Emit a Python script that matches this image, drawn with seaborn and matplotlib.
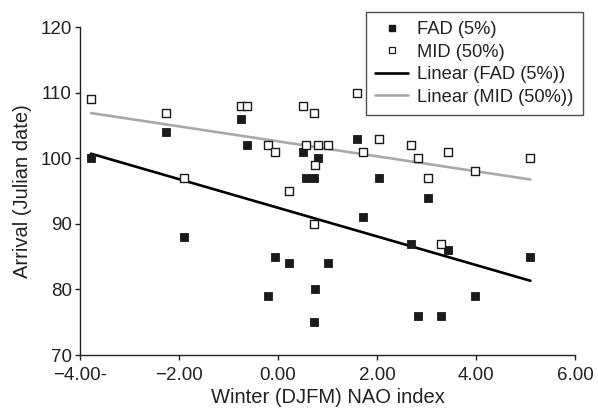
import numpy as np
import pandas as pd
import matplotlib
matplotlib.use("Agg")
import matplotlib.pyplot as plt
from matplotlib.lines import Line2D
import seaborn as sns

# Winter NAO index per year and the two arrival measures (Julian date)
nao = [-3.78, -2.26, -1.90, -0.74, -0.62, -0.20, -0.07, 0.22, 0.50, 0.56,
       0.72, 0.73, 0.75, 0.81, 1.02, 1.60, 1.71, 2.05, 2.68, 2.82,
       3.03, 3.30, 3.43, 3.97, 5.10]
fad = [100, 104, 88, 106, 102, 79, 85, 84, 101, 97,
       97, 75, 80, 100, 84, 103, 91, 97, 87, 76,
       94, 76, 86, 79, 85]
mid = [109, 107, 97, 108, 108, 102, 101, 95, 108, 102,
       107, 90, 99, 102, 102, 110, 101, 103, 102, 100,
       97, 87, 101, 98, 100]

x_ticks = [-4, -2, 0, 2, 4, 6]
x_tick_labels = ["\u22124.00-", "\u22122.00", "0.00", "2.00", "4.00", "6.00"]
y_ticks = [70, 80, 90, 100, 110, 120]

df = pd.DataFrame({"nao": nao, "fad": fad, "mid": mid})

sns.set_style("ticks")
plt.rcParams["font.family"] = ["Liberation Sans", "DejaVu Sans"]

fig = plt.figure(figsize=(5.98, 4.12), dpi=100)
ax = fig.add_axes([80 / 598, 1 - 355 / 412, (575 - 80) / 598, (355 - 27.3) / 412])

ink = "#222222"
fit_gray = "#a9a9a9"

# trend lines
sns.regplot(data=df, x="nao", y="mid", ax=ax, scatter=False, ci=None,
            line_kws=dict(color=fit_gray, lw=1.9, zorder=2))
sns.regplot(data=df, x="nao", y="fad", ax=ax, scatter=False, ci=None,
            line_kws=dict(color="black", lw=1.9, zorder=2))

# points
sns.scatterplot(data=df, x="nao", y="fad", ax=ax, marker="s", s=30,
                color="#1a1a1a", edgecolor="#1a1a1a", linewidth=0.6, zorder=3)
sns.scatterplot(data=df, x="nao", y="mid", ax=ax, marker="s", s=28,
                facecolor="white", edgecolor="#1a1a1a", linewidth=1.0, zorder=4)

ax.set_xlim(-4, 6)
ax.set_ylim(70, 120)
ax.set_xticks(x_ticks)
ax.set_xticklabels(x_tick_labels)
ax.set_yticks(y_ticks)
ax.tick_params(axis="both", labelsize=13.5, length=3.5, width=1, colors=ink,
               labelcolor=ink, direction="out")
ax.tick_params(axis="y", pad=2.5)
ax.tick_params(axis="x", pad=5)
ax.spines["top"].set_visible(False)
ax.spines["right"].set_visible(False)
for s in ("left", "bottom"):
    ax.spines[s].set_linewidth(1.0)
    ax.spines[s].set_color(ink)

ax.set_xlabel("Winter (DJFM) NAO index", fontsize=14.5, color=ink, labelpad=3)
ax.set_ylabel("Arrival (Julian date)", fontsize=14.5, color=ink, labelpad=6)

handles = [
    Line2D([], [], ls="none", marker="s", markersize=5, color="#1a1a1a"),
    Line2D([], [], ls="none", marker="s", markersize=5, markerfacecolor="white",
           markeredgecolor="#1a1a1a", markeredgewidth=0.9),
    Line2D([], [], color="black", lw=1.9),
    Line2D([], [], color=fit_gray, lw=1.9),
]
labels = ["FAD (5%)", "MID (50%)", "Linear (FAD (5%))", "Linear (MID (50%))"]
leg = fig.legend(handles, labels, loc="upper right",
                 bbox_to_anchor=(583 / 598, 1 - 12 / 412),
                 fontsize=13.2, frameon=True, fancybox=False,
                 handlelength=1.8, handletextpad=0.5, labelspacing=0.3,
                 borderpad=0.5, borderaxespad=0)
leg.get_frame().set_edgecolor(ink)
leg.get_frame().set_linewidth(1.0)
for t in leg.get_texts():
    t.set_color(ink)

fig.savefig("out.png", dpi=100)
